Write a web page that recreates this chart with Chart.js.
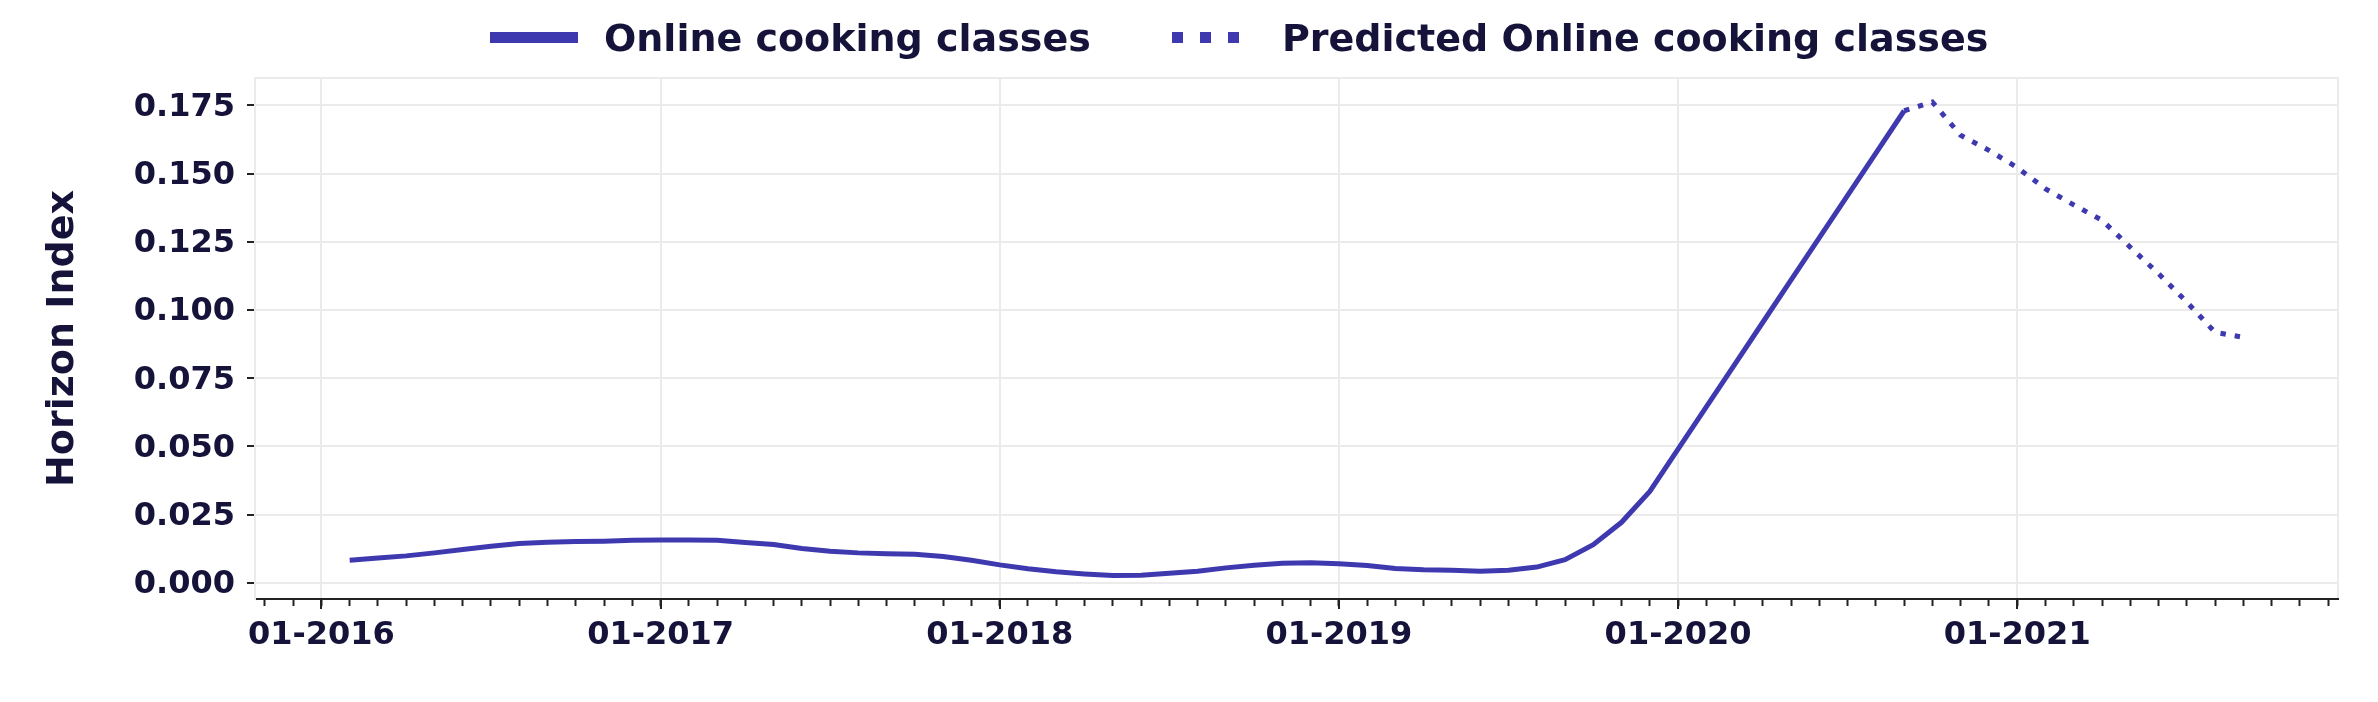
<!DOCTYPE html>
<html>
<head>
<meta charset="utf-8">
<script src="https://cdn.jsdelivr.net/npm/chart.js@4.4.1/dist/chart.umd.min.js"></script>
<style>
html,body{margin:0;padding:0;background:#ffffff;}
#c{display:block;}
</style>
</head>
<body>
<canvas id="c" width="2378" height="702"></canvas>
<script>
// ---------------- data ----------------
const actualMonths = [
  '2016-02','2016-03','2016-04','2016-05','2016-06','2016-07','2016-08','2016-09','2016-10','2016-11','2016-12',
  '2017-01','2017-02','2017-03','2017-04','2017-05','2017-06','2017-07','2017-08','2017-09','2017-10','2017-11','2017-12',
  '2018-01','2018-02','2018-03','2018-04','2018-05','2018-06','2018-07','2018-08','2018-09','2018-10','2018-11','2018-12',
  '2019-01','2019-02','2019-03','2019-04','2019-05','2019-06','2019-07','2019-08','2019-09','2019-10','2019-11','2019-12',
  '2020-01','2020-02','2020-03','2020-04','2020-05','2020-06','2020-07','2020-08','2020-09'
];
const actualValues = [
  0.0083,0.0091,0.0099,0.0110,0.0122,0.0134,0.0144,0.0149,0.0152,0.0153,0.0156,
  0.0157,0.0157,0.0156,0.0148,0.0141,0.0126,0.0116,0.0110,0.0107,0.0105,0.0097,0.0083,
  0.0066,0.0052,0.0041,0.0033,0.0027,0.0028,0.0035,0.0043,0.0055,0.0065,0.0072,0.0074,
  0.0070,0.0064,0.0053,0.0048,0.0046,0.0043,0.0046,0.0058,0.0085,0.0140,0.0222,0.0335,
  0.0490,0.0645,0.0800,0.0955,0.1110,0.1265,0.1420,0.1575,0.1730
];
const predictedMonths = [
  '2020-09','2020-10','2020-11','2020-12','2021-01','2021-02','2021-03','2021-04','2021-05','2021-06','2021-07','2021-08','2021-09'
];
const predictedValues = [
  0.1730,0.1762,0.1640,0.1585,0.1522,0.1444,0.1385,0.1329,0.1230,0.1133,0.1029,0.0918,0.0900
];
const seriesLabels = ['Online cooking classes', 'Predicted Online cooking classes'];
const yAxisTitle = 'Horizon Index';
const baseYear = 2016;

// ---------------- helpers ----------------
function monthIndex(s) {
  const p = s.split('-').map(Number);
  return (p[0] - baseYear) * 12 + (p[1] - 1);
}
function toPoints(months, values) {
  return months.map((m, i) => ({x: monthIndex(m), y: values[i]}));
}

const LINE = '#3f39b0';
const TEXT = '#16133b';
const GRID = '#ebebeb';
const DARK = '#222222';
const FONT = "'DejaVu Sans', 'Liberation Sans', sans-serif";

const xMin = -2.35, xMax = 71.35;
const yMin = -0.0059, yMax = 0.1850;

const framePlugin = {
  id: 'frame',
  beforeDraw(chart) {
    const {ctx, chartArea: a} = chart;
    ctx.save();
    ctx.fillStyle = '#ffffff';
    ctx.fillRect(0, 0, chart.width, chart.height);
    ctx.strokeStyle = GRID;
    ctx.lineWidth = 2;
    ctx.strokeRect(a.left, a.top, a.right - a.left, a.bottom - a.top);
    ctx.restore();
  }
};

const legendPlugin = {
  id: 'customLegend',
  afterDraw(chart) {
    const {ctx} = chart;
    const items = [
      {ds: chart.data.datasets[0], x: 490, len: 88, dash: [], textX: 604},
      {ds: chart.data.datasets[1], x: 1172, len: 67, dash: [11, 17], textX: 1282}
    ];
    ctx.save();
    items.forEach(it => {
      ctx.beginPath();
      ctx.setLineDash(it.dash);
      ctx.lineCap = 'butt';
      ctx.strokeStyle = it.ds.borderColor;
      ctx.lineWidth = 11;
      ctx.moveTo(it.x, 37.5);
      ctx.lineTo(it.x + it.len, 37.5);
      ctx.stroke();
      ctx.setLineDash([]);
      ctx.fillStyle = TEXT;
      ctx.font = 'bold 38px ' + FONT;
      ctx.textBaseline = 'alphabetic';
      ctx.textAlign = 'left';
      ctx.fillText(it.ds.label, it.textX, 51);
    });
    ctx.restore();
  }
};

new Chart(document.getElementById('c'), {
  type: 'line',
  data: {
    datasets: [
      {
        label: seriesLabels[0],
        data: toPoints(actualMonths, actualValues),
        borderColor: LINE,
        backgroundColor: LINE,
        borderWidth: 5,
        pointRadius: 0,
        tension: 0,
        fill: false,
        xAxisID: 'x',
        yAxisID: 'y'
      },
      {
        label: seriesLabels[1],
        data: toPoints(predictedMonths, predictedValues),
        borderColor: LINE,
        backgroundColor: LINE,
        borderWidth: 5,
        borderDash: [5.4, 9],
        pointRadius: 0,
        tension: 0,
        fill: false,
        xAxisID: 'x',
        yAxisID: 'y'
      }
    ]
  },
  options: {
    responsive: false,
    devicePixelRatio: 1,
    animation: false,
    events: [],
    layout: {padding: {top: 78, right: 40, bottom: 0, left: 0}},
    plugins: {
      legend: {display: false},
      tooltip: {enabled: false},
      title: {display: false}
    },
    scales: {
      xm: {
        type: 'linear',
        position: 'bottom',
        weight: 0,
        min: xMin,
        max: xMax,
        afterFit(s) { s.height = 0; },
        border: {display: false},
        grid: {drawOnChartArea: false, drawTicks: true, tickLength: 7, tickColor: DARK, tickWidth: 2},
        ticks: {stepSize: 1, includeBounds: false, autoSkip: false, display: false}
      },
      x: {
        type: 'linear',
        position: 'bottom',
        weight: 1,
        min: xMin,
        max: xMax,
        afterFit(s) { s.height = 103; },
        border: {display: true, color: DARK, width: 2},
        grid: {color: GRID, lineWidth: 2, drawTicks: true, tickLength: 10, tickColor: DARK, tickWidth: 2},
        ticks: {
          stepSize: 12,
          includeBounds: false,
          autoSkip: false,
          maxRotation: 0,
          padding: 7,
          color: TEXT,
          font: {family: FONT, size: 32, weight: 'bold'},
          callback: (v) => '01-' + (baseYear + Math.round(v / 12))
        }
      },
      y: {
        type: 'linear',
        position: 'left',
        min: yMin,
        max: yMax,
        afterFit(s) { s.width = 255; },
        border: {display: true, color: GRID, width: 2},
        grid: {color: GRID, lineWidth: 2, drawTicks: true, tickLength: 8, tickColor: DARK, tickWidth: 2},
        ticks: {
          stepSize: 0.025,
          includeBounds: false,
          padding: 12,
          labelOffset: 2,
          color: TEXT,
          font: {family: FONT, size: 32, weight: 'bold'},
          callback: (v) => Number(v).toFixed(3)
        },
        title: {
          display: true,
          text: yAxisTitle,
          color: TEXT,
          font: {family: FONT, size: 38, weight: 'bold'},
          padding: {top: 40, bottom: 0}
        }
      }
    }
  },
  plugins: [framePlugin, legendPlugin]
});
</script>
</body>
</html>
